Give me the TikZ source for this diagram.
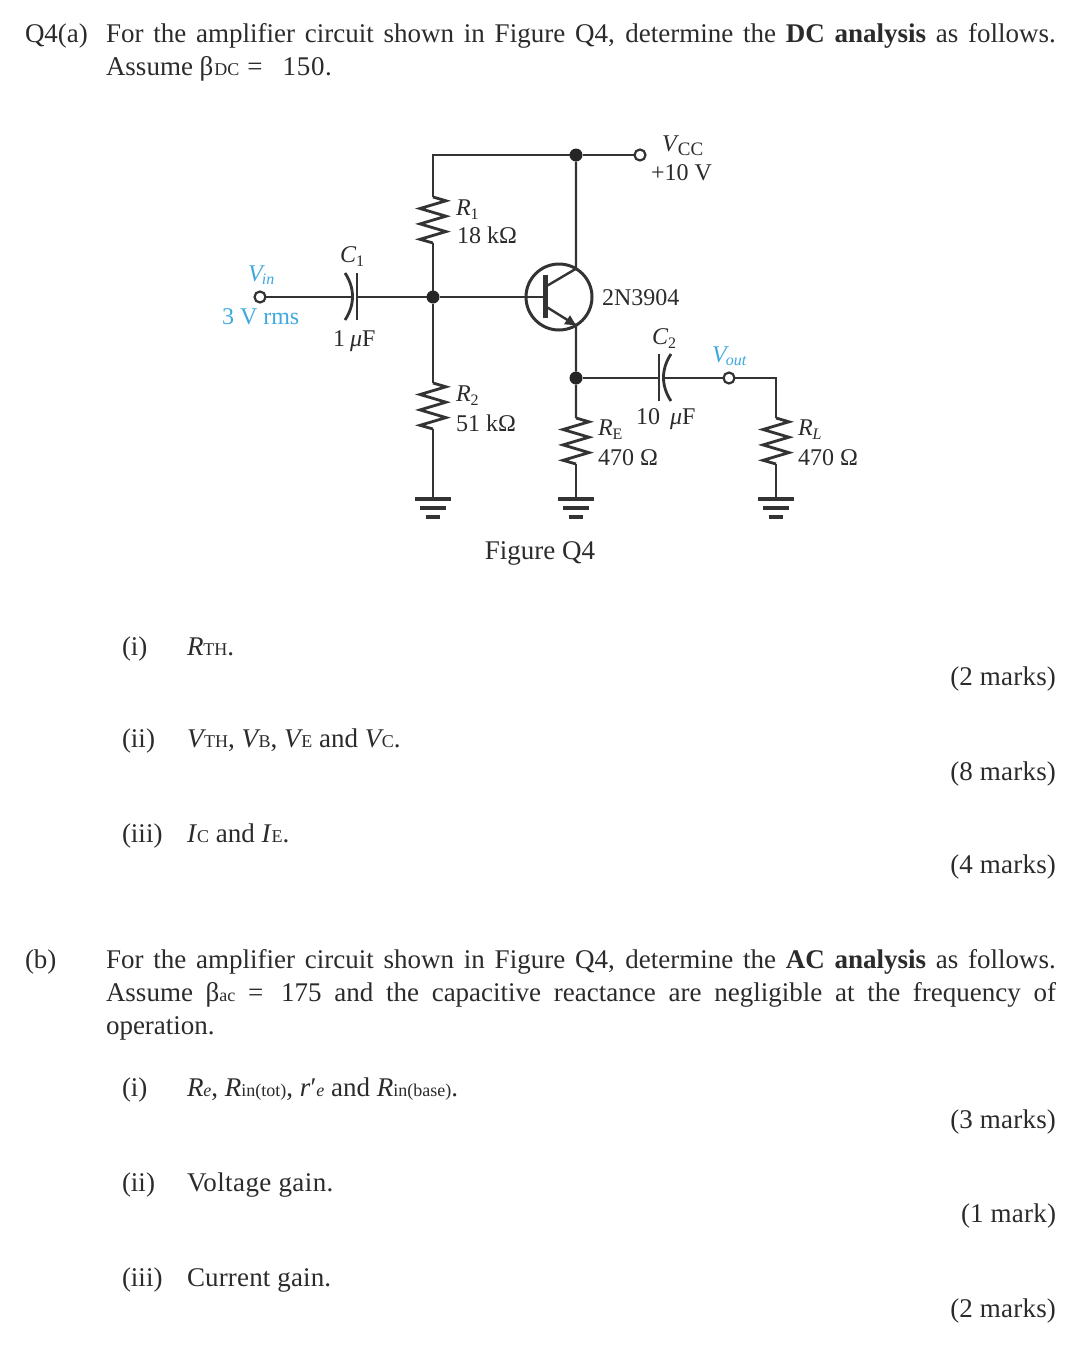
\documentclass[tikz,border=0pt]{standalone}
\usepackage{fontspec}
\setmainfont{Liberation Serif}
\definecolor{ink}{HTML}{2B2B2B}
\definecolor{wirec}{HTML}{333333}
\definecolor{vblue}{HTML}{3FA9DF}
\newcommand{\sm}[1]{{\fontsize{18}{18}\selectfont #1}}
\newcommand{\ssm}[1]{{\fontsize{16}{16}\selectfont #1}}
\newcommand{\lsub}[1]{\raisebox{-4pt}{\fontsize{16}{16}\selectfont #1}}
\newcommand{\jline}[1]{\makebox[950pt][s]{#1}}
\tikzset{
  txt/.style={anchor=base west,inner sep=0pt,outer sep=0pt,text=ink,font=\fontsize{27}{33}\selectfont},
  marks/.style={anchor=base east,inner sep=0pt,outer sep=0pt,text=ink,font=\fontsize{27}{33}\selectfont\addfontfeature{LetterSpace=0.8}},
  lab/.style={anchor=base west,inner sep=0pt,outer sep=0pt,text=ink,font=\fontsize{24}{26}\selectfont},
  blab/.style={lab,text=vblue},
  wire/.style={draw=wirec,line width=2.4pt,line join=miter},
  plate/.style={draw=wirec,line width=2.8pt},
  jdot/.style={circle,fill=black!85,inner sep=0pt,outer sep=0pt,minimum size=13pt},
  term/.style={circle,draw=wirec,line width=2.2pt,fill=white,inner sep=0pt,outer sep=0pt,minimum size=11pt},
  bjt/.style={circle,draw=wirec,line width=3pt,inner sep=0pt,outer sep=0pt,minimum size=66pt},
}
% zigzag resistor between two named points (height 46)
\newcommand{\zig}[2]{\draw[wire,line width=2.8pt] (#1) -- ++(13,3.8) -- ++(-26,7.7) -- ++(26,7.7) -- ++(-26,7.7) -- ++(26,7.7) -- ++(-26,7.7) -- (#2);}
% ground symbol at a named point
\newcommand{\gnd}[1]{%
  \draw[wirec,line width=4pt] ([xshift=-18pt]#1) -- ([xshift=18pt]#1);
  \draw[wirec,line width=4pt] ([xshift=-13pt,yshift=-9pt]#1) -- ([xshift=13pt,yshift=-9pt]#1);
  \draw[wirec,line width=4.5pt] ([xshift=-7pt,yshift=-18pt]#1) -- ([xshift=7pt,yshift=-18pt]#1);}
\begin{document}
\begin{tikzpicture}[x=1pt,y=-1pt]
\useasboundingbox[fill=white] (0,0) rectangle (1080,1357);
% ---- text: part (a)
\node[txt] (qa) at (25,42) {Q4(a)};
\node[txt] (l1) at (106,42) {\jline{For the amplifier circuit shown in Figure Q4, determine the \textbf{DC analysis} as follows.}};
\node[txt] (l2) at (106,75) {Assume β\kern1pt\sm{DC}\kern8pt=\kern20pt{\addfontfeature{LetterSpace=2.5}150.}};
\node[txt] (ai) at (122,655) {(i)};
\node[txt] (ait) at (187,655) {\textit{R}\sm{TH}.};
\node[marks] (am1) at (1056,685) {(2 marks)};
\node[txt] (aii) at (122,747) {(ii)};
\node[txt] (aiit) at (187,747) {\textit{V}\kern-2pt\sm{TH}, \textit{V}\kern-2pt\sm{B}, \textit{V}\kern-2pt\sm{E} and \textit{V}\kern-2pt\sm{C}.};
\node[marks] (am2) at (1056,780) {(8 marks)};
\node[txt] (aiii) at (122,842) {(iii)};
\node[txt] (aiiit) at (187,842) {\textit{I}\sm{C} and \textit{I}\sm{E}.};
\node[marks] (am3) at (1056,873) {(4 marks)};
% ---- text: part (b)
\node[txt] (qb) at (25,968) {(b)};
\node[txt] (b1) at (106,968) {\jline{For the amplifier circuit shown in Figure Q4, determine the \textbf{AC analysis} as follows.}};
\node[txt] (b2) at (106,1001) {\jline{Assume β\sm{ac} =\ \kern5pt 175 and the capacitive reactance are negligible at the frequency of}};
\node[txt] (b3) at (106,1034) {operation.};
\node[txt] (bi) at (122,1096) {(i)};
\node[txt] (bit) at (187,1096) {\textit{R}\sm{\textit{e}}, \textit{R}\sm{in(tot)}, \textit{r}′\sm{\textit{e}} and \textit{R}\sm{in(base)}.};
\node[marks] (bm1) at (1056,1128) {(3 marks)};
\node[txt] (bii) at (122,1191) {(ii)};
\node[txt] (biit) at (187,1191) {\addfontfeature{LetterSpace=1.5}Voltage gain.};
\node[marks] (bm2) at (1056,1222) {(1 mark)};
\node[txt] (biii) at (122,1286) {(iii)};
\node[txt] (biiit) at (187,1286) {\addfontfeature{LetterSpace=0.6}Current gain.};
\node[marks] (bm3) at (1056,1317) {(2 marks)};
\node[txt,anchor=base] (fig) at (540,559) {Figure Q4};
% ---- circuit nodes
\coordinate (tl) at (433,155);
\node[jdot] (dvcc) at (576,155) {};
\node[term] (tvcc) at (640,155) {};
\node[jdot] (db) at (433,297) {};
\node[bjt] (Q) at (559,297) {};
\node[jdot] (de) at (576,378) {};
\node[term] (tvin) at (260,297) {};
\node[term] (tvout) at (729,378) {};
\coordinate (c1l) at (353,297);
\coordinate (c1r) at (357,297);
\coordinate (c2l) at (659,378);
\coordinate (c2r) at (663,378);
\coordinate (rlt) at (776,378);
\coordinate (r1a) at (433,197); \coordinate (r1b) at (433,243);
\coordinate (r2a) at (433,383); \coordinate (r2b) at (433,429);
\coordinate (rea) at (576,418); \coordinate (reb) at (576,464);
\coordinate (rla) at (776,418); \coordinate (rlb) at (776,464);
\coordinate (g2) at (433,499); \coordinate (ge) at (576,499); \coordinate (gl) at (776,499);
\coordinate (bin) at (545,297);
\coordinate (bt) at (545,275); \coordinate (bb) at (545,318);
\coordinate (cin) at (545,287); \coordinate (ein) at (545,306);
% ---- wires
\draw[wire] (r1a) -- (tl) -- (dvcc) -- (tvcc);
\draw[wire] (dvcc) -- (Q.59);
\zig{r1a}{r1b}
\draw[wire] (r1b) -- (db) -- (r2a);
\zig{r2a}{r2b}
\draw[wire] (r2b) -- (g2);
\draw[wire] (tvin) -- (c1l);
\draw[wire] (c1r) -- (db) -- (bin);
\draw[draw=wirec,line width=5pt] (bt) -- (bb);
\draw[wire] (cin) -- (Q.59);
\draw[wire] (ein) -- (Q.-59);
\fill[wirec] (Q.-59) -- ++(-12,-1) -- ++(6,-9) -- cycle;
\draw[wire] (Q.-59) -- (de) -- (rea);
\zig{rea}{reb}
\draw[wire] (reb) -- (ge);
\draw[wire] (de) -- (c2l);
\draw[wire] (c2r) -- (tvout) -- (rlt) -- (rla);
\zig{rla}{rlb}
\draw[wire] (rlb) -- (gl);
\gnd{g2}\gnd{ge}\gnd{gl}
% ---- capacitors
\draw[plate] (357,273) -- (357,320);
\draw[plate] (345,273) .. controls (355,288) and (355,305) .. (345,320);
\draw[plate] (659,354) -- (659,401);
\draw[plate] (671,354) .. controls (661,369) and (661,386) .. (671,401);
% ---- circuit labels
\node[blab] (lvin) at (248,281) {\textit{V}\kern-3pt\raisebox{-3pt}{\ssm{\textit{in}}}};
\node[blab] (lrms) at (222,324) {3 V rms};
\node[lab] (lc1) at (340,262) {\textit{C}\lsub{1}};
\node[lab] (lc1v) at (333,346) {1\kern5pt\textit{μ}F};
\node[lab] (lr1) at (456,215) {\textit{R}\lsub{1}};
\node[lab] (lr1v) at (457,243) {18\kern6pt kΩ};
\node[lab] (lr2) at (456,401) {\textit{R}\lsub{2}};
\node[lab] (lr2v) at (456,431) {51\kern6pt kΩ};
\node[lab] (lq) at (602,305) {2N3904};
\node[lab] (lc2) at (652,344) {\textit{C}\lsub{2}};
\node[lab] (lc2v) at (636,424) {10\kern10pt\textit{μ}F};
\node[blab] (lvout) at (712,362) {\textit{V}\kern-3pt\raisebox{-3pt}{\ssm{\textit{out}}}};
\node[lab] (lre) at (598,435) {\textit{R}\lsub{E}};
\node[lab] (lrev) at (598,465) {470\kern6pt Ω};
\node[lab] (lrl) at (798,435) {\textit{R}\lsub{\textit{L}}};
\node[lab] (lrlv) at (798,465) {470\kern6pt Ω};
\node[lab] (lvcc) at (662,151) {\textit{V}\kern-1pt\lsub{\fontsize{19}{19}\selectfont CC}};
\node[lab] (lvccv) at (651,180) {+10 V};
\end{tikzpicture}
\end{document}
